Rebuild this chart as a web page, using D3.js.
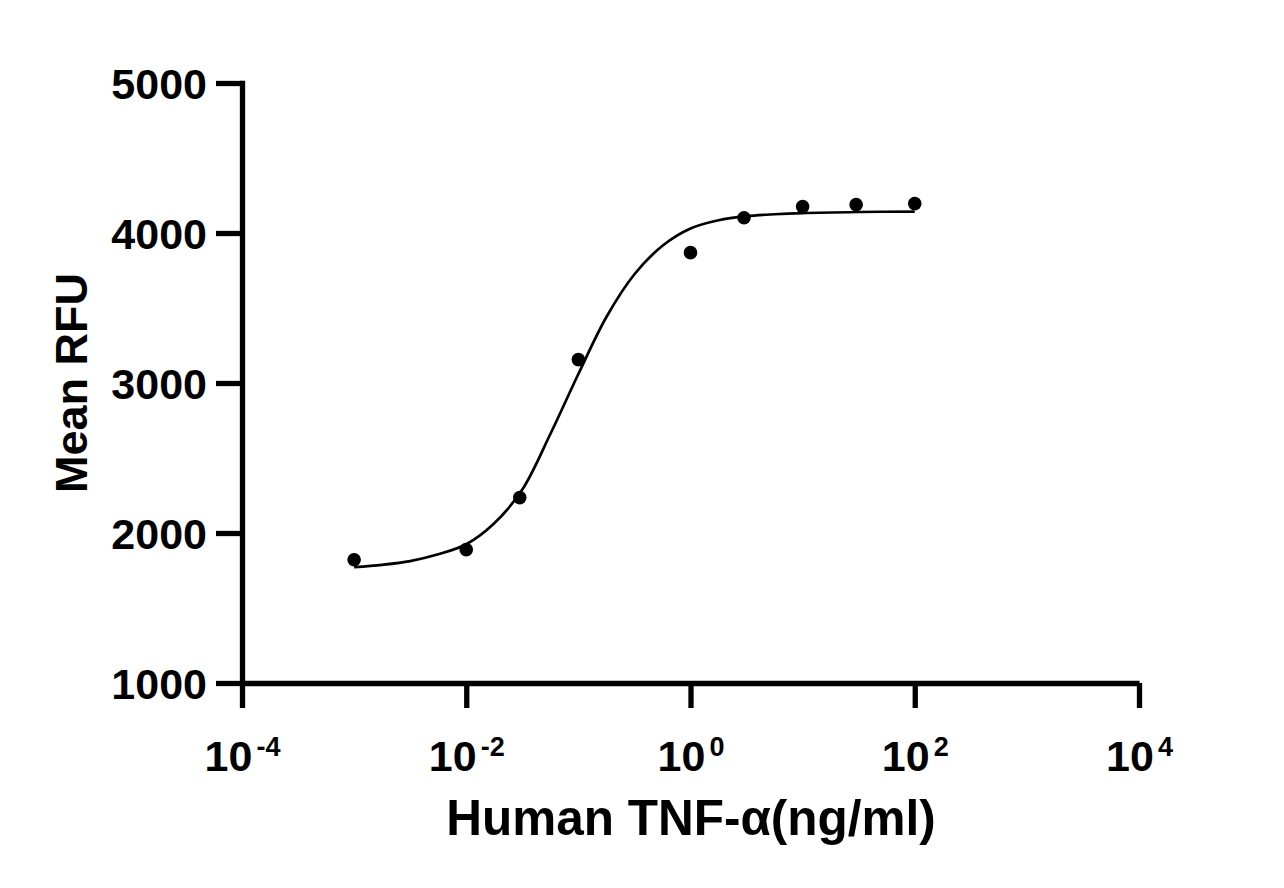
<!DOCTYPE html>
<html>
<head>
<meta charset="utf-8">
<script src="https://cdn.jsdelivr.net/npm/d3@7"></script>
<style>
  html, body { margin: 0; padding: 0; background: #fff; }
  svg { display: block; }
  text { font-family: "Liberation Sans", Arial, sans-serif; font-weight: bold; fill: #000; }
</style>
</head>
<body>
<svg id="chart" width="1284" height="888"></svg>
<script>
// Measured points: concentration (ng/ml) and Mean RFU
const concentrations = [0.001, 0.01, 0.03, 0.1, 1, 3, 10, 30, 100];
const meanRFU = [1822, 1889, 2236, 3156, 3869, 4102, 4176, 4189, 4196];

// Fitted curve (log10 concentration, RFU)
const curveLogX = [-3.0, -2.75, -2.5, -2.25, -2.0, -1.75, -1.5, -1.25, -1.0, -0.75, -0.5, -0.25, 0.0, 0.25, 0.5, 0.75, 1.0, 1.5, 2.0];
const curveRFU  = [1772, 1788, 1813, 1858, 1925, 2065, 2290, 2660, 3060, 3440, 3725, 3915, 4030, 4085, 4112, 4125, 4133, 4140, 4143];

// Axis ticks
const xTickValues = [1e-4, 1e-2, 1, 1e2, 1e4];
const xTickExponents = ["-4", "-2", "0", "2", "4"];
const yTickValues = [1000, 2000, 3000, 4000, 5000];

const xTitle = "Human TNF-α(ng/ml)";
const yTitle = "Mean RFU";

const svg = d3.select("#chart");
const x = d3.scaleLog().domain([1e-4, 1e4]).range([242, 1139]);
const y = d3.scaleLinear().domain([1000, 5000]).range([683, 83]);

// Y axis
const yAxis = svg.append("g")
  .attr("transform", `translate(${x(1e-4)},0)`)
  .call(d3.axisLeft(y).tickValues(yTickValues).tickSize(26).tickSizeOuter(0).tickPadding(9).tickFormat(d3.format("d")));
yAxis.select(".domain").attr("stroke-width", 5.3).attr("stroke", "#000").attr("stroke-linecap", "square");
yAxis.selectAll(".tick line").attr("stroke-width", 5.3).attr("stroke", "#000");
yAxis.selectAll(".tick text").style("font-size", "43px").attr("dy", "0.36em");

// X axis
const xAxis = svg.append("g")
  .attr("transform", `translate(0,${y(1000)})`)
  .call(d3.axisBottom(x).tickValues(xTickValues).tickSize(25).tickSizeOuter(0).tickPadding(18).tickFormat(() => ""));
xAxis.select(".domain").attr("stroke-width", 5.3).attr("stroke", "#000");
xAxis.selectAll(".tick line").attr("stroke-width", 5.3).attr("stroke", "#000");
xAxis.selectAll(".tick text").each(function(d, i) {
  const t = d3.select(this).text(null).style("font-size", "43px").attr("dy", "1.05em").attr("text-anchor", "middle");
  t.append("tspan").text("10");
  t.append("tspan").attr("dx", "4").attr("dy", "-0.55em").style("font-size", "27px").text(xTickExponents[i]);
});

// Fitted curve
const curvePts = curveLogX.map((lx, i) => [Math.pow(10, lx), curveRFU[i]]);
svg.append("path")
  .datum(curvePts)
  .attr("fill", "none")
  .attr("stroke", "#000")
  .attr("stroke-width", 2.7)
  .attr("d", d3.line().x(d => x(d[0])).y(d => y(d[1])).curve(d3.curveCatmullRom.alpha(0.5)));

// Points
svg.append("g").selectAll("circle")
  .data(concentrations.map((c, i) => [c, meanRFU[i]]))
  .join("circle")
  .attr("cx", d => x(d[0]))
  .attr("cy", d => y(d[1]))
  .attr("r", 6.8)
  .attr("fill", "#000");

// Titles
svg.append("text")
  .attr("x", 691).attr("y", 835)
  .attr("text-anchor", "middle")
  .style("font-size", "49.5px")
  .text(xTitle);

svg.append("text")
  .attr("transform", `translate(87,383) rotate(-90)`)
  .attr("text-anchor", "middle")
  .style("font-size", "45px")
  .text(yTitle);
</script>
</body>
</html>
